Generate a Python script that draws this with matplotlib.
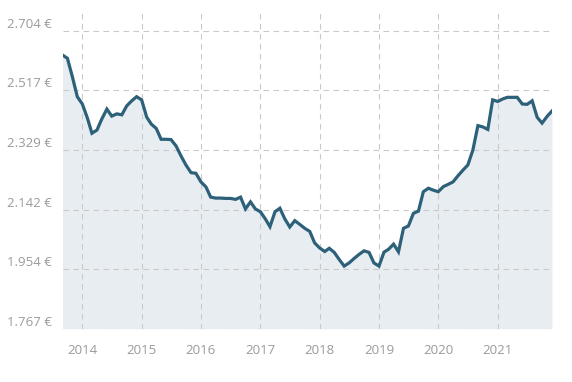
import pandas as pd
import numpy as np
import matplotlib
matplotlib.use('Agg')
import matplotlib.pyplot as plt
import matplotlib.dates as mdates
from matplotlib.ticker import FixedLocator, FixedFormatter

plt.rcParams['font.family'] = ['Open Sans', 'DejaVu Sans']

# ================= data (monthly, Sep 2013 - Dec 2021) =================
months = pd.date_range('2013-09-01', periods=100, freq='MS')
prices = [
    2.628, 2.618, 2.559, 2.497,                                                      # 2013
    2.474, 2.430, 2.382, 2.392, 2.427, 2.458, 2.436, 2.443, 2.440, 2.468, 2.484, 2.497,  # 2014
    2.487, 2.433, 2.411, 2.397, 2.363, 2.363, 2.362, 2.342, 2.310, 2.282, 2.258, 2.256,  # 2015
    2.229, 2.213, 2.181, 2.178, 2.178, 2.177, 2.177, 2.174, 2.181, 2.144, 2.166, 2.144,  # 2016
    2.135, 2.112, 2.088, 2.135, 2.146, 2.112, 2.087, 2.107, 2.095, 2.083, 2.073, 2.037,  # 2017
    2.021, 2.010, 2.020, 2.007, 1.985, 1.964, 1.974, 1.988, 2.001, 2.012, 2.007, 1.974,  # 2018
    1.964, 2.008, 2.017, 2.033, 2.009, 2.083, 2.090, 2.130, 2.137, 2.198, 2.209, 2.203,  # 2019
    2.198, 2.214, 2.221, 2.229, 2.248, 2.266, 2.282, 2.329, 2.406, 2.402, 2.394, 2.487,  # 2020
    2.482, 2.490, 2.495, 2.495, 2.495, 2.474, 2.473, 2.484, 2.432, 2.414, 2.435, 2.452,  # 2021
]
y_ticks = [1.767, 1.954, 2.142, 2.329, 2.517, 2.704]
y_tick_labels = ['1.767 €', '1.954 €', '2.142 €', '2.329 €', '2.517 €', '2.704 €']
years = list(range(2014, 2022))

# ================= figure =================
fig = plt.figure(figsize=(5.72, 3.82), dpi=100)
ax = fig.add_axes([0.1093, 0.1395, 0.8557, 0.8345])

line_col = '#2d6079'
ax.fill_between(months, prices, y_ticks[0], color='#e8edf2', linewidth=0, zorder=1)
ax.plot(months, prices, color=line_col, linewidth=2.3, zorder=3,
        solid_joinstyle='miter')

ax.set_xlim(months[0], months[-1])
ax.set_ylim(1.767, 2.770)

ax.yaxis.set_major_locator(FixedLocator(y_ticks))
ax.yaxis.set_major_formatter(FixedFormatter(y_tick_labels))
year_pos = [mdates.date2num(pd.Timestamp(f'{y}-01-01')) for y in years]
ax.xaxis.set_major_locator(FixedLocator(year_pos))
ax.xaxis.set_major_formatter(FixedFormatter([str(y) for y in years]))

for s in ax.spines.values():
    s.set_visible(False)
ax.tick_params(axis='both', length=0, labelsize=9.5, labelcolor='#9a9a9a')
ax.tick_params(axis='y', pad=8)
ax.tick_params(axis='x', pad=11)
for lab in ax.get_yticklabels():
    lab.set_verticalalignment('bottom')

ax.set_axisbelow('line')
ax.grid(True, color='#c9c9c9', linestyle=(0, (5, 4)), linewidth=0.8)

fig.savefig('out.png', dpi=100)
